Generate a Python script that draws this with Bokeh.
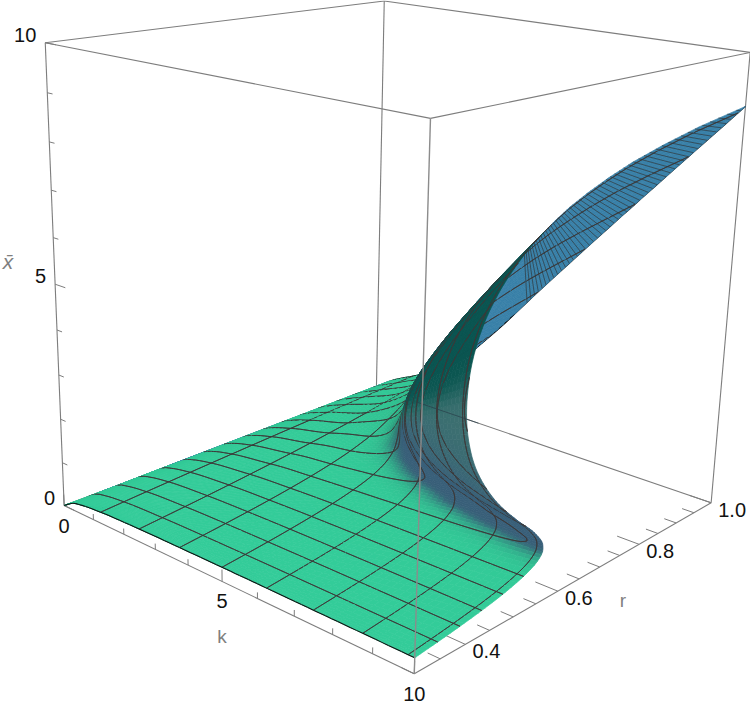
import numpy as np
from bokeh.plotting import figure
from bokeh.models import ColumnDataSource, Range1d
from bokeh.core.properties import value
from bokeh.embed import file_html
from bokeh.resources import INLINE

# ---- values: for each k, the curve (xbar, r) from r=0.3 to r=1
k_table = [0, 0.3125, 0.625, 1.25, 2.5, 3.75, 5, 5.625, 6.25, 7.5, 8.75, 10]
xbar_k0 = [0, 0]
r_k0 = [.3, 1]
xbar_k03 = [.155, .195, .223, .241]
r_k03 = [.3, .5, .75, 1]
xbar_k06 = [.208, .29, .36, .407]
r_k06 = [.3, .5, .75, 1]
xbar_k1 = [.254, .3, .4, .5, .6, .672]
r_k1 = [.3, .362, .507, .667, .848, 1]
xbar_k2 = [.288, .4, .5, .6, .8, 1, 1.2, 1.288]
r_k2 = [.3, .411, .5, .58, .717, .833, .946, 1]
xbar_k3 = [.301, .4, .5, .6, .8, 1, 1.3, 1.6, 2, 2.43]
r_k3 = [.3, .386, .462, .525, .62, .682, .74, .784, .857, 1]
xbar_k5 = [.308, .4, .5, .6, .8, 1, 1.2, 1.5, 1.8, 2, 2.5, 3, 3.5, 3.755]
r_k5 = [.3, .375, .444, .501, .581, .625, .647, .659, .663, .667, .69, .75, .881, 1]
xbar_k56 = [.312, .4, .6, .8, 1, 1.2, 1.5, 1.8, 2.2, 2.6, 3, 3.5, 4, 4.3, 4.41]
r_k56 = [.3, .371, .494, .569, .608, .625, .629, .624, .619, .623, .643, .699, .814, .936, 1]
xbar_k6 = [.313, .4, .5, .6, .8, 1, 1.2, 1.4, 1.7, 2, 2.4, 2.8, 3.2, 3.6, 4, 4.4, 4.8, 5.06]
r_k6 = [.3, .368, .435, .488, .559, .595, .609, .61, .6, .588, .576, .574, .583, .608, .654, .73, .861, 1]
xbar_k7 = [.316, .4, .5, .6, .8, 1, 1.2, 1.4, 1.7, 2, 2.5, 3, 3.5, 4, 4.5, 5, 5.5, 6, 6.345]
r_k7 = [.3, .364, .429, .48, .546, .577, .585, .582, .565, .545, .517, .5, .495, .504, .529, .577, .66, .811, 1]
xbar_k8 = [.318, .4, .5, .6, .8, 1, 1.2, 1.5, 2, 2.5, 3, 3.5, 4, 4.5, 5, 5.5, 6, 6.5, 7, 7.4, 7.62]
r_k8 = [.3, .361, .424, .474, .537, .565, .57, .557, .519, .483, .457, .44, .433, .436, .449, .474, .516, .585, .7, .86, 1]
xbar_k10 = [.32, .4, .5, .6, .8, 1, 1.2, 1.5, 2, 2.5, 3, 3.5, 4, 4.5, 5, 5.5, 6, 6.5, 7, 7.5, 8, 8.5, 8.8, 8.887]
r_k10 = [.3, .359, .421, .469, .53, .556, .559, .543, .5, .46, .429, .406, .392, .385, .385, .391, .405, .429, .467, .524, .615, .774, .935, 1]

xbar_rows = [xbar_k0, xbar_k03, xbar_k06, xbar_k1, xbar_k2, xbar_k3, xbar_k5, xbar_k56, xbar_k6, xbar_k7, xbar_k8, xbar_k10]
r_rows = [r_k0, r_k03, r_k06, r_k1, r_k2, r_k3, r_k5, r_k56, r_k6, r_k7, r_k8, r_k10]

mesh_k = [1.25, 2.5, 3.75, 5, 6.25, 7.5, 8.75, 9.875]
mesh_r = [.34375, .3875, .43125, .475, .51875, .5625, .60625, .65, .69375, .7375, .78125, .825, .86875, .9125, .95625]

k_ticks = [0, 1, 2, 3, 4, 5, 6, 7, 8, 9, 10]
k_labels = {0: "0", 5: "5", 10: "10"}
r_ticks = [.3, .35, .4, .45, .5, .55, .6, .65, .7, .75, .8, .85, .9, .95, 1]
r_labels = {.4: "0.4", .6: "0.6", .8: "0.8", 1: "1.0"}
x_ticks = [0, 1, 2, 3, 4, 5, 6, 7, 8, 9, 10]
x_labels = {0: "0", 5: "5", 10: "10"}

# ---- camera: the eight box corners as they appear in the reference
corners = [((0, 0, 0), (64, 505)), ((1, 0, 0), (413.5, 673.5)), ((0, 1, 0), (375.5, 388)), ((1, 1, 0), (711, 502)),
           ((0, 0, 1), (44.6, 42)), ((1, 0, 1), (430, 118)), ((0, 1, 1), (384, .5)), ((1, 1, 1), (749.5, 52))]
A, B = [], []
for (a, b, c), (u, w) in corners:
    A.append([a, b, c, 1, 0, 0, 0, 0, -u * a, -u * b, -u * c]); B.append(u)
    A.append([0, 0, 0, 0, a, b, c, 1, -w * a, -w * b, -w * c]); B.append(w)
sol = np.linalg.lstsq(np.array(A, float), np.array(B, float), rcond=None)[0]
P = np.append(sol, 1).reshape(3, 4)
cam = np.linalg.solve(P[:, :3], -P[:, 3])


def box(k, r, x):
    return np.stack([np.asarray(k, float) / 10, (np.asarray(r, float) - .3) / .7, np.asarray(x, float) / 10], -1)


def proj(k, r, x):
    b = box(k, r, x)
    h = b @ P[:, :3].T + P[:, 3]
    return h[..., 0] / h[..., 2], h[..., 1] / h[..., 2]


def hermite(q, t, y):
    t, y, q = np.asarray(t, float), np.asarray(y, float), np.asarray(q, float)
    d = np.gradient(y, t)
    i = np.clip(np.searchsorted(t, q, side="right") - 1, 0, len(t) - 2)
    h = t[i + 1] - t[i]
    u = (q - t[i]) / h
    return ((2 * u**3 - 3 * u**2 + 1) * y[i] + (u**3 - 2 * u**2 + u) * h * d[i]
            + (-2 * u**3 + 3 * u**2) * y[i + 1] + (u**3 - u**2) * h * d[i + 1])


# ---- fine parametric mesh over the table
M = 96
vv = np.linspace(0, 1, M)
ss = vv**2
X_row, R_row = [], []
for xr, rr in zip(xbar_rows, r_rows):
    xq = xr[0] + ss * (xr[-1] - xr[0])
    X_row.append(xq)
    R_row.append(.3 + .7 * ss if xr[-1] == xr[0] else hermite(xq, xr, rr))
X_row, R_row = np.array(X_row), np.array(R_row)

sub = [3, 3, 5, 8, 8, 8, 5, 5, 8, 8, 8]
kf = [0.0]
for i, n in enumerate(sub):
    kf += list(np.linspace(k_table[i], k_table[i + 1], n + 1)[1:])
kf = np.array(kf)
XG = np.array([hermite(kf, k_table, X_row[:, j]) for j in range(M)]).T
RG = np.array([hermite(kf, k_table, R_row[:, j]) for j in range(M)]).T
XG = np.maximum(XG, 0)
RG = np.clip(RG, .3, 1)
KG = np.repeat(kf[:, None], M, 1)
BG = box(KG, RG, XG)
UG, VG = proj(KG, RG, XG)


def smooth(v, a, b):
    s = np.clip((v - a) / (b - a), 0, 1)
    return s * s * (3 - 2 * s)


def mix(c0, c1, a):
    return np.array(c0, float) * (1 - a) + np.array(c1, float) * a


FLOOR, SLATE, TEAL, DARK, BLUE = (51, 204, 153), (56, 94, 120), (60, 112, 112), (10, 85, 80), (56, 128, 168)


def colour(N, xv):
    n = N / (np.linalg.norm(N) + 1e-12)
    t, nk = n[2], n[0]
    tp = np.sqrt(max(t, 0)**2 + nk**2) if t > 0 else 0.0
    low = mix(SLATE, TEAL, smooth(xv, 1.5, 4.5))
    dg = smooth(-nk, .05, .25) * smooth(xv, 1.5, 3) * smooth(t, 0, .2)
    low = mix(low, DARK, dg)
    a = smooth(tp, .45, .97) * (1 - dg)
    fl = np.array(FLOOR, float) * (.62 + .38 * max(t, 0))
    return mix(low, fl, a)


def hexc(c):
    c = np.clip(np.round(c), 0, 255).astype(int)
    return "#%02x%02x%02x" % tuple(c)


nc, nv = BG.shape[:2]
Tk = BG[1:, :-1] + BG[1:, 1:] - BG[:-1, :-1] - BG[:-1, 1:]
Tv = BG[:-1, 1:] + BG[1:, 1:] - BG[:-1, :-1] - BG[1:, :-1]
Nc = np.cross(Tk, Tv)
Nc = Nc / (np.linalg.norm(Nc, axis=-1, keepdims=True) + 1e-12)
MID = (BG[:-1, :-1] + BG[1:, :-1] + BG[:-1, 1:] + BG[1:, 1:]) / 4
VIS = np.sum(Nc * (cam - MID), axis=-1) > 0

# cell colours, softened over neighbouring cells of the same side so the shading has no grain
CC = np.array([[colour(Nc[j, i], XG[j, i]) for i in range(nv - 1)] for j in range(nc - 1)])
W = VIS.astype(float)[..., None]
for _ in range(5):
    pc = np.pad(CC * W, ((1, 1), (1, 1), (0, 0)), mode="edge")
    pw = np.pad(W, ((1, 1), (1, 1), (0, 0)), mode="edge")
    num = pc[:-2, 1:-1] + pc[2:, 1:-1] + pc[1:-1, :-2] + pc[1:-1, 2:] + 2 * pc[1:-1, 1:-1]
    den = pw[:-2, 1:-1] + pw[2:, 1:-1] + pw[1:-1, :-2] + pw[1:-1, 2:] + 2 * pw[1:-1, 1:-1]
    CC = np.where(den > 0, num / np.maximum(den, 1e-9), CC)

items = []
for j in range(nc - 1):
    for i in range(nv - 1):
        c4 = BG[[j, j + 1, j + 1, j], [i, i, i + 1, i + 1]]
        if np.linalg.norm(c4[2] - c4[0]) < 1e-9 and np.linalg.norm(c4[3] - c4[1]) < 1e-9:
            continue
        col = hexc(CC[j, i]) if VIS[j, i] else hexc(np.array(BLUE, float))
        us = [UG[j, i], UG[j + 1, i], UG[j + 1, i + 1], UG[j, i + 1]]
        vs = [VG[j, i], VG[j + 1, i], VG[j + 1, i + 1], VG[j, i + 1]]
        items.append((np.linalg.norm(MID[j, i] - cam), us, vs, col, col, .7))

LINE = "#3c3838"
BIAS = .012


def add_seg(k0, r0, x0, k1, r1, x1, col=LINE, lw=.85, bias=BIAS):
    mid = box((k0 + k1) / 2, (r0 + r1) / 2, (x0 + x1) / 2)
    (u0, v0), (u1, v1) = proj(k0, r0, x0), proj(k1, r1, x1)
    items.append((np.linalg.norm(mid - cam) - bias, [u0, u1], [v0, v1], col, col, lw))


# lines of constant k
for mk in mesh_k:
    j = int(np.argmin(abs(kf - mk)))
    for i in range(nv - 1):
        add_seg(kf[j], RG[j, i], XG[j, i], kf[j], RG[j, i + 1], XG[j, i + 1])

# lines of constant r, traced through the mesh cells (on the side that faces the viewer)
for level in mesh_r:
    cells = np.argwhere((np.minimum.reduce([RG[:-1, :-1], RG[1:, :-1], RG[:-1, 1:], RG[1:, 1:]]) <= level)
                        & (np.maximum.reduce([RG[:-1, :-1], RG[1:, :-1], RG[:-1, 1:], RG[1:, 1:]]) > level)
                        & VIS)
    for j, i in cells:
        ring = [(j, i), (j + 1, i), (j + 1, i + 1), (j, i + 1)]
        hits = []
        for (a, b), (c, d) in zip(ring, ring[1:] + ring[:1]):
            r0, r1 = RG[a, b], RG[c, d]
            if (r0 - level) * (r1 - level) < 0:
                f = (level - r0) / (r1 - r0)
                hits.append((kf[a] + f * (kf[c] - kf[a]), XG[a, b] + f * (XG[c, d] - XG[a, b])))
        for h0, h1 in zip(hits[::2], hits[1::2]):
            add_seg(h0[0], level, h0[1], h1[0], level, h1[1])

# boundary along r = 0.3 and r = 1
for j in range(nc - 1):
    for i in (0, nv - 1):
        add_seg(kf[j], RG[j, i], XG[j, i], kf[j + 1], RG[j + 1, i], XG[j + 1, i], col="#111111", lw=1.1)

items.sort(key=lambda it: -it[0])
src = ColumnDataSource(dict(xs=[it[1] for it in items], ys=[it[2] for it in items],
                            fc=[it[3] for it in items], lc=[it[4] for it in items], lw=[it[5] for it in items]))

p = figure(width=750, height=708, output_backend="svg", toolbar_location=None,
           x_range=Range1d(0, 750), y_range=Range1d(708, 0),
           x_axis_location=None, y_axis_location=None, min_border=0, outline_line_color=None)
p.grid.visible = False

GRAY = "#7d7d7d"


def edge_lines(edges, **kw):
    xs, ys = [], []
    for a, b in edges:
        u, v = proj([a[0], b[0]], [a[1], b[1]], [a[2], b[2]])
        xs.append(list(u)); ys.append(list(v))
    p.multi_line(xs, ys, line_color=kw.get("color", GRAY), line_width=kw.get("width", 1.1), line_alpha=kw.get("alpha", 1))


back_edges = [((0, .3, 0), (0, 1, 0)), ((0, 1, 0), (10, 1, 0)), ((0, 1, 0), (0, 1, 10)),
              ((0, .3, 10), (0, 1, 10)), ((0, 1, 10), (10, 1, 10)), ((0, .3, 10), (10, .3, 10)),
              ((10, .3, 10), (10, 1, 10)), ((10, 1, 0), (10, 1, 10)), ((0, .3, 0), (0, .3, 10)),
              ((0, .3, 0), (10, .3, 0)), ((10, .3, 0), (10, 1, 0))]
edge_lines(back_edges)

tick_segs = []
for t in k_ticks:
    tick_segs.append(((t, .3, 0), (t, .3, .26 if t in k_labels else .13)))
for t in r_ticks:
    tick_segs.append(((10, t, 0), (10 - (.55 if t in r_labels else .3), t, 0)))
for t in x_ticks:
    tick_segs.append(((0, .3, t), (.34 if t in x_labels else .17, .3, t)))
edge_lines(tick_segs, width=1)

p.patches("xs", "ys", fill_color="fc", line_color="lc", line_width="lw", source=src)

# fine dark hatching on the blue under-side of the upper sheet, from its r = 1 edge to its k = 10 edge
hatch_k0, hatch_x0, hatch_n = 4.7, 7.2, 52
fq = np.linspace(0, 1, hatch_n)[:-1]
kA = hatch_k0 + fq * (10 - hatch_k0)
xA = np.interp(kA, kf, XG[:, -1])
xB = hatch_x0 + fq * (xbar_k10[-1] - hatch_x0)
rB = hermite(xB, xbar_k10, r_k10)
uA, vA = proj(kA, np.ones_like(kA), xA)
uB, vB = proj(np.full_like(xB, 10), rB, xB)
p.multi_line([[a, b] for a, b in zip(uA, uB)], [[a, b] for a, b in zip(vA, vB)], line_color="#2f3538", line_width=.8, line_alpha=.85)

edge_lines([((1.4, 1, 0), (3.4, 1, 0))], color="#2a3f4a", width=1, alpha=.7)
edge_lines([((10, .3, 0), (10, .3, 10))], color="#8c8c8c", width=1.4)

FONT = value("Liberation Sans")


def labels(kk, rr, xx, texts, dx, dy, align="center", color="#111111", size="20px", style="normal"):
    u, v = proj(kk, rr, xx)
    p.text(list(u), list(v), text=texts, x_offset=dx, y_offset=dy, text_align=align, text_baseline="middle",
           text_font=FONT, text_font_size=size, text_color=color, text_font_style=style)


labels(list(k_labels), [.3] * 3, [0] * 3, list(k_labels.values()), 0, 20)
labels([10] * 4, list(r_labels), [0] * 4, list(r_labels.values()), 21, 7)
labels([0] * 3, [.3] * 3, list(x_labels), list(x_labels.values()), -9, -8, align="right")
labels([5], [.3], [0], ["k"], 0, 55, color="#7f7f7f", size="19px")
labels([10], [.6], [0], ["r"], 65, 9, color="#7f7f7f", size="19px")
labels([0], [.3], [5], ["x\u0304"], -47, -23, color="#7f7f7f", size="21px", style="italic")

open("out.html", "w").write(file_html(p, INLINE))
